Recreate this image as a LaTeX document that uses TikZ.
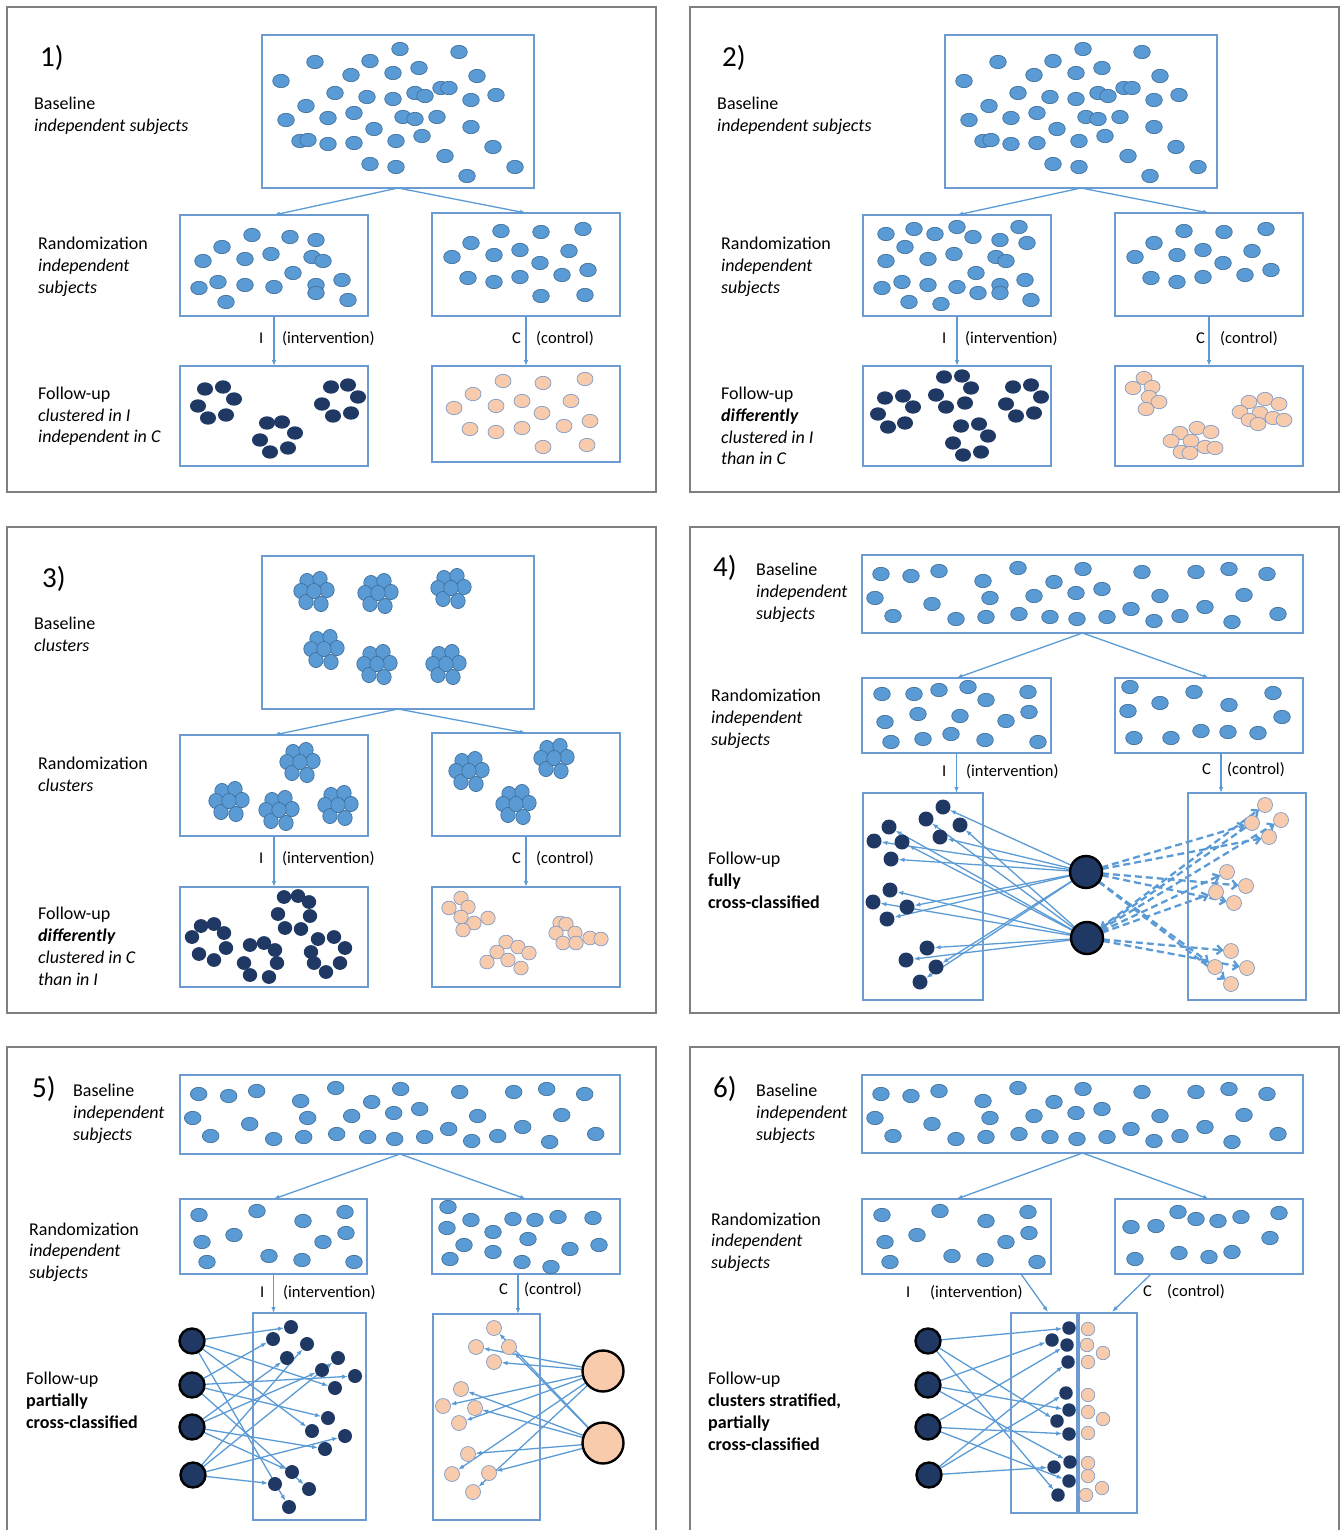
\documentclass[tikz,border=0pt]{standalone}
\usepackage{fontspec}
\setmainfont{Carlito}
\usetikzlibrary{arrows.meta,backgrounds}
\definecolor{lfill}{HTML}{5B9BD5}
\definecolor{ldraw}{HTML}{41719C}
\definecolor{dfill}{HTML}{1F3864}
\definecolor{pfill}{HTML}{F8CBAD}
\definecolor{pdraw}{HTML}{7F9CC9}
\definecolor{boxc}{HTML}{6C9BD2}
\definecolor{arrc}{HTML}{5B9BD5}
\definecolor{panelc}{HTML}{7F7F7F}
\tikzset{
 box/.style={draw=boxc, line width=1.2pt, inner sep=0pt, outer sep=0pt},
 panel/.style={draw=panelc, line width=1.3pt},
 ldot/.style={fill=lfill, draw=ldraw, line width=0.7pt},
 ddot/.style={fill=dfill},
 pdot/.style={fill=pfill, draw=pdraw, line width=0.7pt},
 lab/.style={anchor=mid west, inner sep=0pt, yshift=-4pt, font=\fontsize{18}{22}\selectfont},
 lab2/.style={anchor=mid west, inner sep=0pt, yshift=-4pt, font=\fontsize{16.5}{20}\selectfont},
 num/.style={anchor=mid west, inner sep=0pt, yshift=-8pt, font=\fontsize{29}{34}\selectfont},
 arr/.style={draw=arrc, line width=1.3pt, -{Latex[length=6pt,width=4.5pt]}},
 darr/.style={draw=arrc, line width=2.3pt, dash pattern=on 7pt off 4pt, -{Straight Barb[length=5pt,width=9pt]}},
 dn/.style={circle, fill=dfill, inner sep=0pt, outer sep=0pt, minimum size=#1},
 pn/.style={circle, fill=pfill, draw=pdraw, line width=0.7pt, inner sep=0pt, outer sep=0pt, minimum size=#1},
 bigd/.style={circle, fill=dfill, draw=black, line width=2.4pt, inner sep=0pt, outer sep=0pt, minimum size=#1},
 bigp/.style={circle, fill=pfill, draw=black, line width=2.4pt, inner sep=0pt, outer sep=0pt, minimum size=#1},
}
\newcommand\BOX[5]{\node[box,anchor=north west,minimum width={#4pt-#2pt},minimum height={#5pt-#3pt}] (#1) at (#2,#3) {};}
\newcommand\DOTS[4]{\edef\tmplist{#4}\foreach \x/\y in \tmplist {\path[#1] (\x,\y) ellipse [x radius=#2pt, y radius=#3pt];}}
\newcommand\FLOWER[2]{\foreach \dx/\dy in {-7/-10,6/-12,-13/0,13/-1,-8/11,7/13,0/0}{\path[ldot] ({#1+\dx},{#2+\dy}) ellipse [x radius=7.2pt, y radius=7.6pt];}}
\newcommand\BaseA{281/81,315/62,370/61,400/49,459/52,351/75,393/73,419/68,477/76,335/93,367/97,393/99,415/93,425/96,441/88,449/88,471/100,496/95,306/106,286/120,328/118,354/113,403/117,415/119,437/117,471/127,374/129,300/141,308/140,328/144,354/143,396/141,422/136,493/147,445/156,370/164,396/167,467/176,515/167}
\newcommand\BaseB{881/574,911/576,939/571,983/581,1018/568,1054/582,1083/569,1142/572,1196/572,1229/569,1267/574,875/598,990/598,932/604,1034/596,1076/593,1102/589,1160/596,1244/595,893/616,956/619,986/617,1019/614,1050/617,1077/619,1107/617,1131/609,1154/621,1180/616,1205/607,1232/622,1278/614}
\newcommand\RandCA{501/231,541/232,583/229,471/243,452/257,494/255,520/250,569/251,540/263,468/278,494/282,520/277,562/275,588/270}
\newcommand\RandI{199/1215,257/1211,303/1221,345/1212,202/1242,234/1235,323/1242,346/1233,207/1262,269/1256,302/1260,354/1262}
\begin{document}
\begin{tikzpicture}[x=1pt,y=-1pt]
\useasboundingbox (0,0) rectangle (1341,1530);
\draw[panel] (7,7) rectangle (656,492);
\draw[panel] (690,7) rectangle (1339,492);
\draw[panel] (7,527) rectangle (656,1013);
\draw[panel] (690,527) rectangle (1339,1013);
\draw[panel] (7,1047) rectangle (656,1545);
\draw[panel] (690,1047) rectangle (1339,1545);

% ================= Panel 1
\BOX{p1b}{262}{35}{534}{188}
\BOX{p1ri}{180}{215}{368}{316}
\BOX{p1rc}{432}{213}{620}{316}
\BOX{p1fi}{180}{366}{368}{466}
\BOX{p1fc}{432}{366}{620}{462}
\draw[arr] (p1b.south) -- (p1ri.north);
\draw[arr] (p1b.south) -- (p1rc.north);
\draw[arr] (p1ri.south) -- (p1fi.north);
\draw[arr] (p1rc.south) -- (p1fc.north);
\DOTS{ldot}{8.3}{6.7}{\BaseA}
\DOTS{ldot}{8.3}{6.7}{252/235,290/237,316/240,222/247,203/261,245/259,271/254,312/257,323/261,293/273,199/288,218/282,245/285,274/287,316/285,316/293,342/280,226/302,348/300}
\DOTS{ldot}{8.3}{6.7}{\RandCA,541/296,585/295}
\DOTS{ddot}{8}{6.7}{205/389,223/387,234/399,198/406,226/415,208/418,267/423,282/422,295/433,260/440,288/448,270/452,331/387,348/385,358/397,322/404,351/413,333/416}
\DOTS{pdot}{8}{6.7}{503/381,543/383,585/379,473/394,454/408,496/406,522/401,571/401,542/413,470/429,496/432,522/428,564/426,590/421,543/447,587/445}
\node[num] (n1) at (40,56) {1)};
\node[lab] (t1a) at (34,103) {Baseline};
\node[lab] (t1b) at (34,125) {\textit{independent subjects}};
\node[lab] (t1c) at (38,243) {Randomization};
\node[lab] (t1d) at (38,265) {\textit{independent}};
\node[lab] (t1e) at (38,287) {\textit{subjects}};
\node[lab] (t1f) at (38,393) {Follow-up};
\node[lab] (t1g) at (38,415) {\textit{clustered in I}};
\node[lab] (t1h) at (38,436) {\textit{independent in C}};
\node[lab2] (t1i) at (259,337) {I};
\node[lab2] (t1j) at (282,337) {(intervention)};
\node[lab2] (t1k) at (512,337) {C};
\node[lab2] (t1l) at (536,337) {(control)};

% ================= Panel 2
\BOX{p2b}{945}{35}{1217}{188}
\BOX{p2ri}{863}{215}{1051}{316}
\BOX{p2rc}{1115}{213}{1303}{316}
\BOX{p2fi}{863}{366}{1051}{466}
\BOX{p2fc}{1115}{366}{1303}{466}
\draw[arr] (p2b.south) -- (p2ri.north);
\draw[arr] (p2b.south) -- (p2rc.north);
\draw[arr] (p2ri.south) -- (p2fi.north);
\draw[arr] (p2rc.south) -- (p2fc.north);
\begin{scope}[shift={(683,0)}]
\DOTS{ldot}{8.3}{6.7}{\BaseA}
\DOTS{ldot}{8.3}{6.7}{\RandCA}
\end{scope}
\DOTS{ldot}{8.3}{6.7}{886/234,914/229,935/234,957/227,973/237,1000/240,1019/227,1027/243,905/247,886/261,928/259,954/254,996/257,1006/261,976/273,882/288,902/282,928/285,957/287,1000/285,1000/293,1025/280,909/302,941/304,978/293,1031/300}
\DOTS{ddot}{8}{6.7}{885/398,903/396,913/407,878/414,905/423,888/427,944/377,962/376,971/388,936/395,965/403,946/407,961/426,979/424,988/436,953/443,981/452,963/455,1013/387,1031/385,1041/397,1006/404,1034/413,1016/416}
\DOTS{pdot}{8}{6.7}{1144/378,1152/387,1133/388,1149/397,1159/402,1146/409,1197/428,1211/432,1180/433,1191/441,1171/441,1205/447,1215/448,1181/452,1190/453,1249/402,1265/399,1279/404,1240/412,1260/413,1273/418,1284/420,1249/420,1258/424}
\node[num] (n2) at (722,56) {2)};
\node[lab] (t2a) at (717,103) {Baseline};
\node[lab] (t2b) at (717,125) {\textit{independent subjects}};
\node[lab] (t2c) at (721,243) {Randomization};
\node[lab] (t2d) at (721,265) {\textit{independent}};
\node[lab] (t2e) at (721,287) {\textit{subjects}};
\node[lab] (t2f) at (721,393) {Follow-up};
\node[lab] (t2g) at (721,415) {\textbf{\textit{differently}}};
\node[lab] (t2h) at (721,437) {\textit{clustered in I}};
\node[lab] (t2i) at (721,458) {\textit{than in C}};
\node[lab2] (t2j) at (942,337) {I};
\node[lab2] (t2k) at (965,337) {(intervention)};
\node[lab2] (t2l) at (1196,337) {C};
\node[lab2] (t2m) at (1220,337) {(control)};

% ================= Panel 3
\BOX{p3b}{262}{556}{534}{709}
\BOX{p3ri}{180}{735}{368}{836}
\BOX{p3rc}{432}{733}{620}{836}
\BOX{p3fi}{180}{887}{368}{987}
\BOX{p3fc}{432}{887}{620}{987}
\draw[arr] (p3b.south) -- (p3ri.north);
\draw[arr] (p3b.south) -- (p3rc.north);
\draw[arr] (p3ri.south) -- (p3fi.north);
\draw[arr] (p3rc.south) -- (p3fc.north);
\foreach \cx/\cy in {314/591,378/593,451/588,324/649,377/664,446/664,300/762,229/801,279/810,338/805,469/771,554/758,516/804}{\FLOWER{\cx}{\cy}}
\DOTS{ddot}{7.2}{6.9}{201/926,214/924,224/933,192/937,226/948,199/954,214/960,284/897,298/896,309/902,278/914,310/916,285/928,301/929,250/945,264/943,275/950,244/963,277/963,250/975,269/977,318/939,334/937,345/948,311/952,340/963,314/963,326/972}
\DOTS{pdot}{7.2}{6.9}{461/898,468/907,449/908,461/917,474/923,488/918,463/930,506/942,518/947,529/953,497/952,508/960,487/962,521/968,560/923,566/924,556/933,575/933,563/943,576/943,590/938,601/939}
\node[num] (n3) at (42,577) {3)};
\node[lab] (t3a) at (34,623) {Baseline};
\node[lab] (t3b) at (34,645) {\textit{clusters}};
\node[lab] (t3c) at (38,763) {Randomization};
\node[lab] (t3d) at (38,785) {\textit{clusters}};
\node[lab] (t3e) at (38,913) {Follow-up};
\node[lab] (t3f) at (38,935) {\textbf{\textit{differently}}};
\node[lab] (t3g) at (38,957) {\textit{clustered in C}};
\node[lab] (t3h) at (38,979) {\textit{than in I}};
\node[lab2] (t3i) at (259,857) {I};
\node[lab2] (t3j) at (282,857) {(intervention)};
\node[lab2] (t3k) at (512,857) {C};
\node[lab2] (t3l) at (536,857) {(control)};

% ================= Panel 4
\BOX{p4b}{862}{555}{1303}{633}
\BOX{p4ri}{862}{678}{1051}{753}
\BOX{p4rc}{1115}{678}{1303}{753}
\BOX{p4fi}{863}{793}{983}{1000}
\BOX{p4fc}{1188}{793}{1306}{1000}
\draw[arr] (p4b.south) -- (p4ri.north);
\draw[arr] (p4b.south) -- (p4rc.north);
\draw[arr] (p4ri.south) -- (p4ri.south |- p4fi.north);
\draw[arr] ([xshift=12pt]p4rc.south) -- ([xshift=12pt]p4rc.south |- p4fc.north);
\DOTS{ldot}{8.3}{6.7}{\BaseB}
\DOTS{ldot}{8.3}{6.7}{882/694,914/694,939/690,968/687,986/700,1028/692,885/722,918/714,960/716,1006/721,1029/712,891/742,923/739,951/734,985/740,1038/742}
\DOTS{ldot}{8.3}{6.7}{1130/687,1194/692,1273/693,1160/703,1229/705,1128/711,1282/717,1134/738,1171/738,1201/731,1228/732,1258/733}
\node[bigd=32pt] (p4A) at (1086,872) {};
\node[bigd=32pt] (p4B) at (1087,938) {};
\foreach \n/\x/\y in {1/943/807,2/926/819,3/960/825,4/940/837,5/889/827,6/874/841,7/902/842,8/891/859,9/890/890,10/873/902,11/907/907,12/887/919,13/927/948,14/906/960,15/936/967,16/920/982}
  \node[dn=15pt] (p4d\n) at (\x,\y) {};
\foreach \n/\x/\y in {1/1265/805,2/1252/823,3/1281/820,4/1269/837,5/1227/872,6/1216/892,7/1246/886,8/1234/903,9/1231/951,10/1215/967,11/1247/968,12/1231/984}
  \node[pn=15pt] (p4q\n) at (\x,\y) {};
\begin{scope}[on background layer]
\foreach \n in {1,4,6,8,11,12,15,16} \draw[arr] (p4A) -- (p4d\n);
\foreach \n in {2,3,5,7,9,10,13,14} \draw[arr] (p4B) -- (p4d\n);
\foreach \n in {2,4,7,8,10,12} \draw[darr] (p4A) -- (p4q\n);
\foreach \n in {1,3,5,6,9,11} \draw[darr] (p4B) -- (p4q\n);
\draw[darr] (p4q2) -- (p4B);
\end{scope}
\node[num] (n4) at (713,566) {4)};
\node[lab] (t4a) at (756,569) {Baseline};
\node[lab] (t4b) at (756,591) {\textit{independent}};
\node[lab] (t4c) at (756,613) {\textit{subjects}};
\node[lab] (t4d) at (711,695) {Randomization};
\node[lab] (t4e) at (711,717) {\textit{independent}};
\node[lab] (t4f) at (711,739) {\textit{subjects}};
\node[lab2] (t4g) at (942,770) {I};
\node[lab2] (t4h) at (966,770) {(intervention)};
\node[lab2] (t4i) at (1202,768) {C};
\node[lab2] (t4j) at (1227,768) {(control)};
\node[lab] (t4k) at (708,858) {Follow-up};
\node[lab] (t4l) at (708,880) {\textbf{fully}};
\node[lab] (t4m) at (708,902) {\textbf{cross-classified}};

% ================= Panel 5
\BOX{p5b}{180}{1075}{620}{1154}
\BOX{p5ri}{180}{1199}{367}{1274}
\BOX{p5rc}{432}{1199}{620}{1274}
\BOX{p5fi}{253}{1313}{366}{1520}
\BOX{p5fc}{433}{1314}{540}{1520}
\draw[arr] (p5b.south) -- (p5ri.north);
\draw[arr] (p5b.south) -- (p5rc.north);
\draw[arr] (p5ri.south) -- (p5ri.south |- p5fi.north);
\draw[arr] ([xshift=-8pt]p5rc.south) -- ([xshift=-8pt]p5rc.south |- p5fc.north);
\begin{scope}[shift={(-682.3,520)}]
\DOTS{ldot}{8.3}{6.7}{\BaseB}
\end{scope}
\DOTS{ldot}{8.3}{6.7}{\RandI}
\DOTS{ldot}{8.3}{6.7}{448/1207,471/1220,513/1219,535/1220,558/1217,593/1218,447/1228,493/1232,528/1239,464/1245,493/1252,570/1249,599/1245,450/1259,522/1262,551/1267}
\node[bigd=25pt] (p5C1) at (192,1341) {};
\node[bigd=25pt] (p5C2) at (192,1385) {};
\node[bigd=25pt] (p5C3) at (192,1427) {};
\node[bigd=25pt] (p5C4) at (193,1475) {};
\node[bigp=41pt] (p5P1) at (603,1371) {};
\node[bigp=41pt] (p5P2) at (603,1443) {};
\foreach \n/\x/\y in {1/291/1327,2/273/1339,3/307/1344,4/287/1358,5/338/1358,6/322/1370,7/355/1376,8/335/1388,9/328/1418,10/312/1431,11/345/1436,12/325/1449,13/292/1472,14/275/1484,15/309/1489,16/289/1507}
  \node[dn=14pt] (p5d\n) at (\x,\y) {};
\foreach \n/\x/\y in {1/494/1328,2/476/1347,3/509/1347,4/494/1362,5/461/1389,6/443/1406,7/475/1408,8/459/1423,9/468/1454,10/452/1474,11/489/1473,12/473/1492}
  \node[pn=15pt] (p5q\n) at (\x,\y) {};
\begin{scope}[on background layer]
\foreach \n in {1,8,10,16} \draw[arr] (p5C1) -- (p5d\n);
\foreach \n in {2,7,9,15} \draw[arr] (p5C2) -- (p5d\n);
\foreach \n in {4,6,12,13} \draw[arr] (p5C3) -- (p5d\n);
\foreach \n in {3,5,11,14} \draw[arr] (p5C4) -- (p5d\n);
\foreach \n in {2,4,6,8,10,12} \draw[arr] (p5P1) -- (p5q\n);
\foreach \n in {1,3,5,7,9,11} \draw[arr] (p5P2) -- (p5q\n);
\end{scope}
\node[num] (n5) at (32,1087) {5)};
\node[lab] (t5a) at (73,1090) {Baseline};
\node[lab] (t5b) at (73,1112) {\textit{independent}};
\node[lab] (t5c) at (73,1134) {\textit{subjects}};
\node[lab] (t5d) at (29,1229) {Randomization};
\node[lab] (t5e) at (29,1250) {\textit{independent}};
\node[lab] (t5f) at (29,1272) {\textit{subjects}};
\node[lab2] (t5g) at (260,1291) {I};
\node[lab2] (t5h) at (283,1291) {(intervention)};
\node[lab2] (t5i) at (499,1288) {C};
\node[lab2] (t5j) at (524,1288) {(control)};
\node[lab] (t5k) at (26,1378) {Follow-up};
\node[lab] (t5l) at (26,1400) {\textbf{partially}};
\node[lab] (t5m) at (26,1422) {\textbf{cross-classified}};

% ================= Panel 6
\BOX{p6b}{862}{1075}{1303}{1153}
\BOX{p6ri}{862}{1199}{1051}{1274}
\BOX{p6rc}{1115}{1199}{1303}{1274}
\BOX{p6fi}{1011}{1313}{1077}{1513}
\BOX{p6fc}{1079}{1313}{1137}{1513}
\coordinate (p6s1) at (1021,1274);
\coordinate (p6e1) at (1048,1312);
\coordinate (p6s2) at (1151,1274);
\coordinate (p6e2) at (1112,1312);
\draw[arr] (p6b.south) -- (p6ri.north);
\draw[arr] (p6b.south) -- (p6rc.north);
\draw[arr] (p6s1) -- (p6e1);
\draw[arr] (p6s2) -- (p6e2);
\begin{scope}[shift={(0,520)}]
\DOTS{ldot}{8.3}{6.7}{\BaseB}
\end{scope}
\begin{scope}[shift={(683,0)}]
\DOTS{ldot}{8.3}{6.7}{\RandI}
\end{scope}
\DOTS{ldot}{8.3}{6.7}{1131/1227,1156/1226,1178/1212,1196/1219,1218/1221,1241/1217,1279/1213,1270/1238,1135/1259,1179/1253,1209/1257,1232/1252}
\node[bigd=25pt] (p6C1) at (928,1341) {};
\node[bigd=25pt] (p6C2) at (928,1385) {};
\node[bigd=25pt] (p6C3) at (928,1427) {};
\node[bigd=25pt] (p6C4) at (929,1475) {};
\foreach \n/\x/\y in {1/1069/1328,2/1052/1340,3/1067/1345,4/1068/1362,5/1066/1393,6/1069/1410,7/1057/1421,8/1069/1434,9/1070/1462,10/1054/1467,11/1069/1481,12/1058/1495}
  \node[dn=13.5pt] (p6d\n) at (\x,\y) {};
\foreach \n/\x/\y in {1/1088/1329,2/1087/1345,3/1103/1353,4/1088/1362,5/1088/1395,6/1088/1412,7/1103/1419,8/1088/1433,9/1088/1463,10/1088/1476,11/1102/1488,12/1086/1495}
  \node[pn=13.5pt] (p6q\n) at (\x,\y) {};
\begin{scope}[on background layer]
\foreach \n in {1,7,12} \draw[arr] (p6C1) -- (p6d\n);
\foreach \n in {2,6,9} \draw[arr] (p6C2) -- (p6d\n);
\foreach \n in {3,8,11} \draw[arr] (p6C3) -- (p6d\n);
\foreach \n in {4,5,10} \draw[arr] (p6C4) -- (p6d\n);
\end{scope}
\node[num] (n6) at (713,1087) {6)};
\node[lab] (t6a) at (756,1090) {Baseline};
\node[lab] (t6b) at (756,1112) {\textit{independent}};
\node[lab] (t6c) at (756,1134) {\textit{subjects}};
\node[lab] (t6d) at (711,1219) {Randomization};
\node[lab] (t6e) at (711,1240) {\textit{independent}};
\node[lab] (t6f) at (711,1262) {\textit{subjects}};
\node[lab2] (t6g) at (906,1291) {I};
\node[lab2] (t6h) at (930,1291) {(intervention)};
\node[lab2] (t6i) at (1143,1290) {C};
\node[lab2] (t6j) at (1167,1290) {(control)};
\node[lab] (t6k) at (708,1378) {Follow-up};
\node[lab] (t6l) at (708,1400) {\textbf{clusters stratified,}};
\node[lab] (t6m) at (708,1422) {\textbf{partially}};
\node[lab] (t6n) at (708,1444) {\textbf{cross-classified}};
\end{tikzpicture}
\end{document}
